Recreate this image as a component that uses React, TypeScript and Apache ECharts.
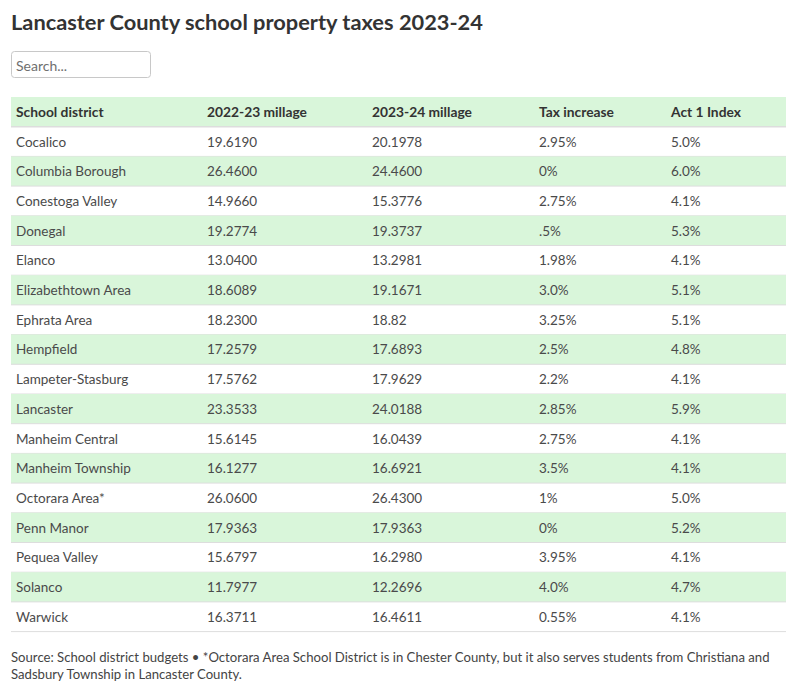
import React, { useEffect, useRef } from "react";
import * as echarts from "echarts";

const title = "Lancaster County school property taxes 2023-24";
const headers = ["School district", "2022-23 millage", "2023-24 millage", "Tax increase", "Act 1 Index"];
const districts = [
  "Cocalico", "Columbia Borough", "Conestoga Valley", "Donegal", "Elanco",
  "Elizabethtown Area", "Ephrata Area", "Hempfield", "Lampeter-Stasburg", "Lancaster",
  "Manheim Central", "Manheim Township", "Octorara Area*", "Penn Manor", "Pequea Valley",
  "Solanco", "Warwick",
];
const millage2223 = [
  "19.6190", "26.4600", "14.9660", "19.2774", "13.0400", "18.6089", "18.2300", "17.2579",
  "17.5762", "23.3533", "15.6145", "16.1277", "26.0600", "17.9363", "15.6797", "11.7977", "16.3711",
];
const millage2324 = [
  "20.1978", "24.4600", "15.3776", "19.3737", "13.2981", "19.1671", "18.82", "17.6893",
  "17.9629", "24.0188", "16.0439", "16.6921", "26.4300", "17.9363", "16.2980", "12.2696", "16.4611",
];
const taxIncrease = [
  "2.95%", "0%", "2.75%", ".5%", "1.98%", "3.0%", "3.25%", "2.5%", "2.2%", "2.85%",
  "2.75%", "3.5%", "1%", "0%", "3.95%", "4.0%", "0.55%",
];
const act1Index = [
  "5.0%", "6.0%", "4.1%", "5.3%", "4.1%", "5.1%", "5.1%", "4.8%", "4.1%", "5.9%",
  "4.1%", "4.1%", "5.0%", "5.2%", "4.1%", "4.7%", "4.1%",
];
const footnoteLines = [
  "Source: School district budgets \u2022 *Octorara Area School District is in Chester County, but it also serves students from Christiana and",
  "Sadsbury Township in Lancaster County.",
];

const FONT = "Lato, 'Noto Sans', sans-serif";

export default function App() {
  const ref = useRef<HTMLDivElement>(null);
  useEffect(() => {
    if (!ref.current) return;
    const chart = echarts.init(ref.current, undefined, { renderer: "svg" });
    const left = 11;
    const right = 786;
    const tableTop = 97;
    const rowH = 29.7;
    const colX = [16, 207, 372, 539, 671];
    const green = "#d9f6da";
    const line = "#dddddd";
    const elements: any[] = [];

    elements.push({
      type: "text", left: 11, top: 10,
      style: { text: title, font: `bold 21.8px ${FONT}`, fill: "#333333" },
    });
    elements.push({
      type: "rect", shape: { x: 11.5, y: 51.5, width: 139, height: 26, r: 3 },
      style: { fill: "#ffffff", stroke: "#c8c8c8", lineWidth: 1 },
    });
    elements.push({
      type: "text", x: 16, y: 65,
      style: { text: "Search...", font: `14px ${FONT}`, fill: "#6f6f6f", textVerticalAlign: "middle" },
    });

    // header
    elements.push({
      type: "rect", shape: { x: left, y: tableTop, width: right - left, height: rowH },
      style: { fill: green },
    });
    headers.forEach((h, c) => {
      elements.push({
        type: "text", x: colX[c], y: tableTop + rowH / 2,
        style: { text: h, font: `bold 13.8px ${FONT}`, fill: "#333333", textVerticalAlign: "middle" },
      });
    });
    elements.push({
      type: "line", shape: { x1: left, y1: tableTop + rowH, x2: right, y2: tableTop + rowH },
      style: { stroke: line, lineWidth: 1.5 },
    });

    districts.forEach((d, i) => {
      const y0 = tableTop + rowH * (i + 1);
      if (i % 2 === 1) {
        elements.push({
          type: "rect", shape: { x: left, y: y0, width: right - left, height: rowH },
          style: { fill: green },
        });
      }
      const cells = [d, millage2223[i], millage2324[i], taxIncrease[i], act1Index[i]];
      cells.forEach((t, c) => {
        elements.push({
          type: "text", x: colX[c], y: y0 + rowH / 2,
          style: { text: t, font: `13.5px ${FONT}`, fill: "#4a4a4a", textVerticalAlign: "middle" },
        });
      });
      elements.push({
        type: "line", shape: { x1: left, y1: y0 + rowH, x2: right, y2: y0 + rowH },
        style: { stroke: line, lineWidth: 1 },
      });
    });

    footnoteLines.forEach((t, k) => {
      elements.push({
        type: "text", x: 11, y: 657 + k * 17,
        style: { text: t, font: `13.15px ${FONT}`, fill: "#444444", textVerticalAlign: "middle" },
      });
    });

    chart.setOption({ animation: false, graphic: { elements } });
    return () => chart.dispose();
  }, []);
  return (
    <div
      ref={ref}
      style={{ position: "fixed", left: 0, top: 0, width: 796, height: 693, background: "#ffffff" }}
    />
  );
}
